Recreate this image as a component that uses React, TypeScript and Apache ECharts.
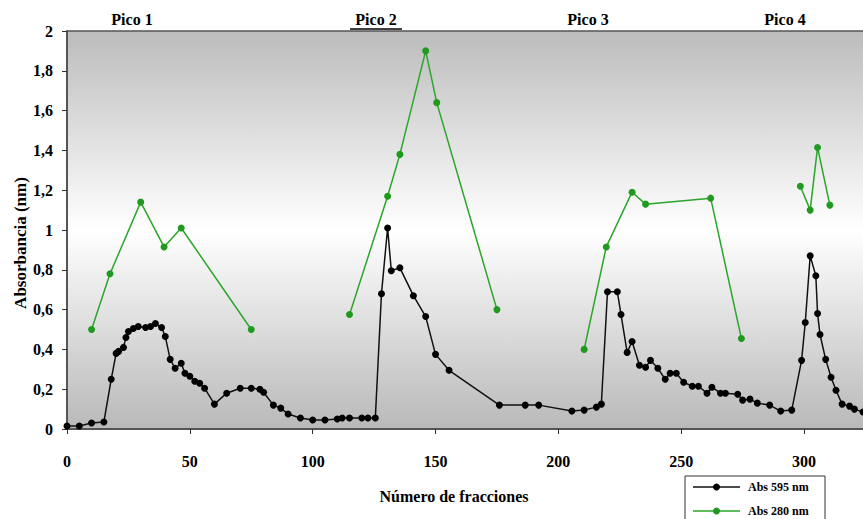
import React, { useEffect, useRef } from "react";
import * as echarts from "echarts";

const xTicks = [0, 50, 100, 150, 200, 250, 300];
const yTickLabels = ["0", "0,2", "0,4", "0,6", "0,8", "1", "1,2", "1,4", "1,6", "1,8", "2"];
const peakLabels = ["Pico 1", "Pico 2", "Pico 3", "Pico 4"];
const peakX = [132, 376, 588, 785];
const seriesNames = ["Abs 595 nm", "Abs 280 nm"];
const seriesColors = ["#000000", "#1f9a1f"];

const blackX = [0, 5, 10, 15, 18, 20, 21, 23, 24, 25, 27, 29, 32, 34, 36, 38.5, 40, 42, 44, 46.5, 48, 50, 52, 54, 56, 60, 65, 70.5, 75, 78.5, 80, 84, 87, 90, 95, 100, 105, 110, 112, 115, 120, 122.5, 125.5, 128, 130.5, 132, 135.5, 141, 146, 150, 155.5, 176, 186.5, 192, 205.5, 210.5, 215.5, 217.5, 220, 224, 225.5, 228, 230, 233, 235.5, 237.5, 240.5, 243.5, 245.5, 248, 251, 254.5, 257, 260.5, 262.5, 266, 268, 273, 275, 278, 281, 286, 290.5, 295, 299, 300.5, 302.5, 304.8, 305.5, 306.5, 308.8, 311, 313, 315.5, 318.5, 320.5, 324];
const blackY = [0.015, 0.015, 0.03, 0.035, 0.25, 0.38, 0.39, 0.41, 0.46, 0.49, 0.505, 0.515, 0.51, 0.515, 0.53, 0.51, 0.465, 0.35, 0.305, 0.33, 0.28, 0.265, 0.24, 0.23, 0.205, 0.125, 0.18, 0.205, 0.205, 0.2, 0.185, 0.12, 0.105, 0.075, 0.055, 0.045, 0.045, 0.05, 0.055, 0.055, 0.055, 0.055, 0.055, 0.68, 1.01, 0.795, 0.81, 0.67, 0.565, 0.375, 0.295, 0.12, 0.12, 0.12, 0.09, 0.095, 0.11, 0.125, 0.69, 0.69, 0.575, 0.385, 0.44, 0.32, 0.31, 0.345, 0.305, 0.25, 0.28, 0.28, 0.235, 0.215, 0.215, 0.18, 0.21, 0.18, 0.18, 0.175, 0.145, 0.15, 0.13, 0.12, 0.09, 0.095, 0.345, 0.535, 0.87, 0.77, 0.58, 0.475, 0.35, 0.26, 0.195, 0.125, 0.115, 0.1, 0.085];

const greenX = [10, 17.5, 30, 39.5, 46.5, 75, 95, 115, 130.5, 135.5, 146, 150.5, 175, 192, 210.5, 219.5, 230, 235.5, 262, 274.5, 286, 298.5, 302.5, 305.5, 310.5];
const greenY: (number | null)[] = [0.5, 0.78, 1.14, 0.915, 1.01, 0.5, null, 0.575, 1.17, 1.38, 1.9, 1.64, 0.6, null, 0.4, 0.915, 1.19, 1.13, 1.16, 0.455, null, 1.22, 1.1, 1.415, 1.125];

const FONT = "Liberation Serif";

export default function App() {
  const ref = useRef<HTMLDivElement>(null);
  useEffect(() => {
    if (!ref.current) return;
    const chart = echarts.init(ref.current, undefined, { renderer: "svg" });
    const blackData = blackX.map((x, i) => [x, blackY[i]]);
    const greenData = greenX.map((x, i) => [x, greenY[i] === null ? "-" : greenY[i]]);
    const gl = 67, gt = 31, gb = 429;
    const txt = (size: number, align: "center" | "left" = "center") => ({
      fontFamily: FONT,
      fontSize: size,
      fontWeight: "bold" as const,
      fill: "#000",
      align,
      verticalAlign: "middle" as const,
    });
    const legendX = 685, legendY = 476;
    const legendItems = seriesNames.map((name, i) => {
      const cy = legendY + 11 + i * 24;
      return [
        {
          type: "line",
          shape: { x1: legendX + 8, y1: cy, x2: legendX + 55, y2: cy },
          style: { stroke: i === 0 ? "#111" : "#2aa52a", lineWidth: 1.5 },
        },
        {
          type: "circle",
          shape: { cx: legendX + 31.5, cy, r: 3.5 },
          style: { fill: seriesColors[i] },
        },
        {
          type: "text",
          x: legendX + 63,
          y: cy,
          style: { text: name, ...txt(12, "left") },
        },
      ];
    }).flat();
    chart.setOption({
      animation: false,
      backgroundColor: "#ffffff",
      textStyle: { fontFamily: FONT },
      grid: { left: gl, top: gt, right: 0, bottom: 519 - gb, containLabel: false },
      graphic: [
        {
          type: "rect",
          z: -10,
          shape: { x: gl, y: gt, width: 863 - gl, height: gb - gt },
          style: {
            fill: new echarts.graphic.LinearGradient(0, 0, 0, 1, [
              { offset: 0, color: "#bcbcbc" },
              { offset: 0.5, color: "#ffffff" },
              { offset: 1, color: "#b9b9b9" },
            ]),
          },
        },
        {
          type: "line",
          z: 5,
          shape: { x1: gl, y1: gt, x2: 863, y2: gt },
          style: { stroke: "#555", lineWidth: 1.5 },
        },
        ...peakLabels.map((t, i) => ({
          type: "text",
          x: peakX[i],
          y: 19,
          style: { text: t, ...txt(16) },
        })),
        {
          type: "line",
          shape: { x1: peakX[1] - 26, y1: 29, x2: peakX[1] + 26, y2: 29 },
          style: { stroke: "#000", lineWidth: 1.3 },
        },
        {
          type: "text",
          x: 454,
          y: 496,
          style: { text: "Número de fracciones", ...txt(16) },
        },
        {
          type: "text",
          x: 20,
          y: 243,
          rotation: Math.PI / 2,
          style: { text: "Absorbancia (nm)", ...txt(17) },
        },
        {
          type: "rect",
          shape: { x: legendX, y: legendY, width: 140, height: 60 },
          style: { fill: "#fff", stroke: "#333", lineWidth: 1 },
        },
        ...legendItems,
      ],
      xAxis: {
        type: "value",
        min: 0,
        max: 324,
        interval: 50,
        splitLine: { show: false },
        axisLine: { show: true, onZero: false, lineStyle: { color: "#555", width: 2 } },
        axisTick: { show: true, length: 5, lineStyle: { color: "#333" } },
        axisLabel: {
          margin: 24,
          fontFamily: FONT,
          fontSize: 16,
          fontWeight: "bold",
          color: "#000",
          showMaxLabel: false,
          formatter: (v: number) => (xTicks.includes(v) ? String(v) : ""),
        },
      },
      yAxis: {
        type: "value",
        min: 0,
        max: 2,
        interval: 0.2,
        splitLine: { show: false },
        axisLine: { show: true, lineStyle: { color: "#555", width: 2 } },
        axisTick: { show: true, length: 5, lineStyle: { color: "#333" } },
        axisLabel: {
          margin: 14,
          fontFamily: FONT,
          fontSize: 16,
          fontWeight: "bold",
          color: "#000",
          formatter: (v: number) => yTickLabels[Math.round(v * 5)] ?? "",
        },
      },
      series: [
        {
          name: seriesNames[1],
          type: "line",
          data: greenData,
          connectNulls: false,
          symbol: "circle",
          symbolSize: 7,
          itemStyle: { color: seriesColors[1] },
          lineStyle: { color: "#2aa52a", width: 1.5 },
          z: 3,
        },
        {
          name: seriesNames[0],
          type: "line",
          data: blackData,
          symbol: "circle",
          symbolSize: 7,
          itemStyle: { color: seriesColors[0] },
          lineStyle: { color: "#111", width: 1.5 },
          z: 4,
        },
      ],
    });
    return () => chart.dispose();
  }, []);
  return <div ref={ref} style={{ width: 863, height: 519, position: "absolute", left: 0, top: 0 }} />;
}
